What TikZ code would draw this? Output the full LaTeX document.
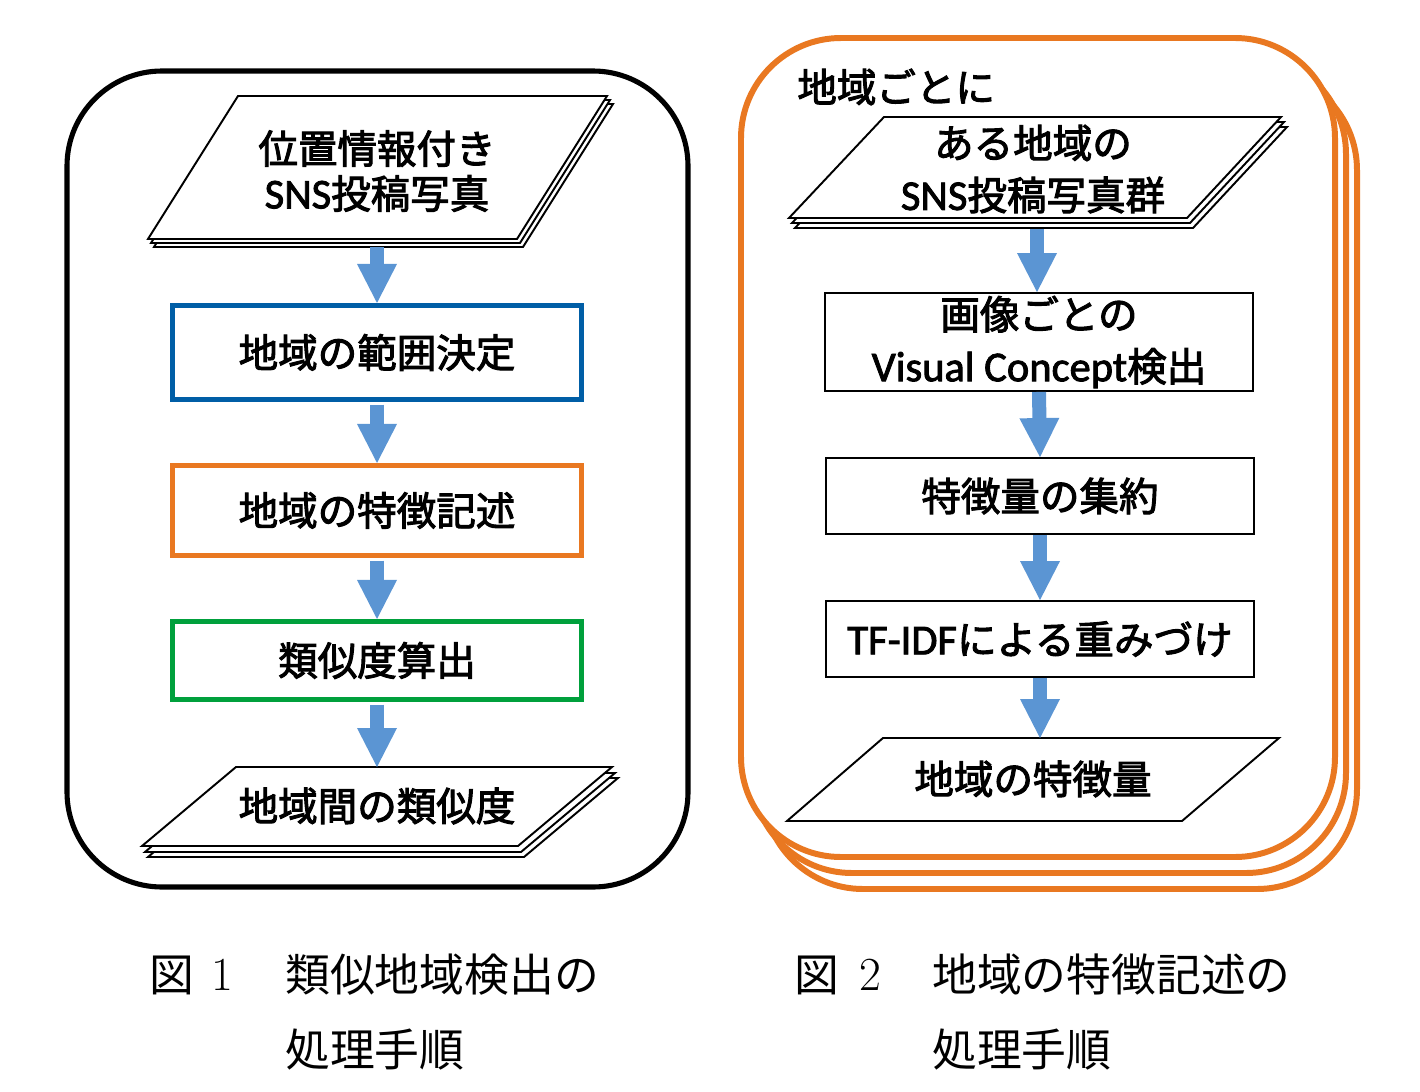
\documentclass[tikz,border=0pt]{standalone}
\usepackage{fontspec}
\newfontfamily\jp{Noto Sans CJK JP}[FakeBold=2.5]
\newfontfamily\jpr{Noto Sans CJK JP}
\newfontfamily\latf{Carlito}[FakeBold=2]
\newcommand\lat[1]{{\latf\fontsize{24.2}{25}\selectfont #1}}
\usetikzlibrary{arrows.meta}
\definecolor{arrowblue}{RGB}{91,149,211}
\definecolor{boxblue}{RGB}{0,94,166}
\definecolor{boxorange}{RGB}{233,120,33}
\definecolor{boxgreen}{RGB}{0,160,60}
\begin{document}
\begin{tikzpicture}[x=0.02cm,y=-0.02cm,
 lbl/.style={font=\jp\fontsize{22.5}{25.6}\selectfont, inner sep=0pt, align=center},
 lblw/.style={font=\jp\fontsize{22.5}{29.6}\selectfont, inner sep=0pt, align=center},
 captxt/.style={font=\jpr\fontsize{25.5}{30}\selectfont, inner sep=0pt},
 colbox/.style={draw, line width=2.9pt, fill=white, minimum width=8.18cm},
 blkbox/.style={draw=black, line width=1.1pt, fill=white, minimum width=8.56cm},
 sheet/.style={draw=black, line width=1.1pt, fill=white, line join=miter},
 barrow/.style={draw=arrowblue, line width=0.28cm, -{Triangle[width=0.8cm,length=0.78cm,line width=0pt]}},
 frame/.style={draw=boxorange, line width=3.4pt, fill=white, rounded corners=2cm}]
\useasboundingbox (0,0) rectangle (1420,1092);
% ---------- left figure ----------
\draw[line width=2.9pt, rounded corners=1.9cm] (67,71) rectangle (688,887);
\foreach \d/\e in {6/8,3/4,0/0}{
  \draw[sheet,shift={(\d,\e)}] (238,96) -- (607,96) -- (517,239) -- (148,239) -- cycle;}
\node[lbl] (in1) at (377,171) {位置情報付き\\\lat{SNS}投稿写真};
\coordinate (in1b) at (377,247);
\node[colbox, draw=boxblue, minimum height=1.88cm, lbl] (b1) at (377,352.5) {地域の範囲決定};
\node[colbox, draw=boxorange, minimum height=1.8cm, lbl] (b2) at (377,510.5) {地域の特徴記述};
\node[colbox, draw=boxgreen, minimum height=1.56cm, lbl] (b3) at (377,660.5) {類似度算出};
\foreach \d/\e in {6/11,3/6,0/0}{
  \draw[sheet,shift={(\d,\e)}] (236,767) -- (612,767) -- (518,846) -- (142,846) -- cycle;}
\node[lbl] (out1) at (377,806) {地域間の類似度};
\coordinate (out1t) at (377,767);
\draw[barrow] (in1b) -- (b1.north);
\draw[barrow, shorten <=1.5pt] (b1.south) -- (b2.north);
\draw[barrow, shorten <=1.5pt] (b2.south) -- (b3.north);
\draw[barrow, shorten <=1.5pt] (b3.south) -- (out1t);
% ---------- right figure ----------
\foreach \d/\e in {22/32,11/16,0/0}{
  \draw[frame,shift={(\d,\e)}] (741,38) rectangle (1335,857);}
\node[lbl, anchor=west] (hdr) at (797,87) {地域ごとに};
\foreach \d/\e in {6/10,3/5,0/0}{
  \draw[sheet,shift={(\d,\e)}] (884,117) -- (1281,117) -- (1187,218) -- (789,218) -- cycle;}
\node[lblw] (in2) at (1033,169) {ある地域の\\\lat{SNS}投稿写真群};
\coordinate (in2b) at (1037,229);
\node[blkbox, minimum height=1.96cm, lblw] (r1) at (1039,342) {画像ごとの\\\lat{Visual Concept}検出};
\node[blkbox, minimum height=1.52cm, lbl] (r2) at (1040,496) {特徴量の集約};
\node[blkbox, minimum height=1.52cm, lbl] (r3) at (1040,639) {\lat{TF-IDF}による重みづけ};
\draw[sheet] (883,738) -- (1279,738) -- (1182,821) -- (787,821) -- cycle;
\node[lbl] (out2) at (1033,779) {地域の特徴量};
\coordinate (out2t) at (1040,738);
\draw[barrow] (in2b) -- (in2b |- r1.north);
\draw[barrow] (r1.south) -- (r2.north);
\draw[barrow] (r2.south) -- (r3.north);
\draw[barrow] (r3.south) -- (out2t);
% ---------- captions ----------
\node[captxt] (c1a) at (172,975) {図};
\node[captxt] (c1b) at (222,975) {\rmfamily\fontsize{27}{30}\selectfont 1};
\node[captxt, anchor=west] (c1c) at (285,975) {類似地域検出の};
\node[captxt, anchor=west] (c1d) at (285,1050) {処理手順};
\node[captxt] (c2a) at (817,975) {図};
\node[captxt] (c2b) at (870,975) {\rmfamily\fontsize{27}{30}\selectfont 2};
\node[captxt, anchor=west] (c2c) at (932,975) {地域の特徴記述の};
\node[captxt, anchor=west] (c2d) at (932,1050) {処理手順};
\end{tikzpicture}
\end{document}
